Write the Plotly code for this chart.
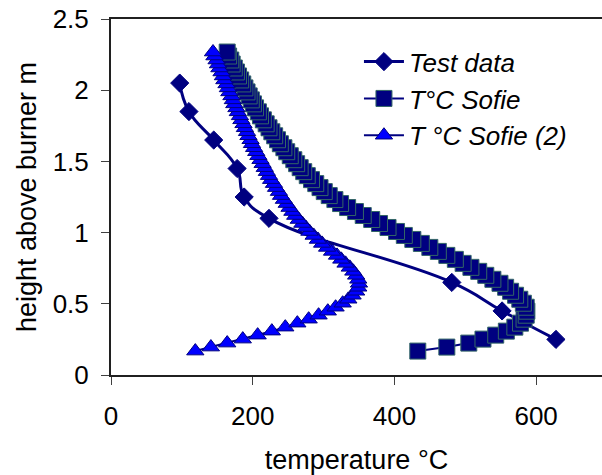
import plotly.graph_objects as go

# ---- data ----
test_temp = [97, 110, 145, 178, 188, 223, 481, 552, 628]
test_height = [2.05, 1.85, 1.65, 1.45, 1.25, 1.10, 0.65, 0.45, 0.25]

model_height = [0.168, 0.196, 0.224, 0.252, 0.280, 0.308, 0.336, 0.364, 0.392, 0.420,
                0.448, 0.476, 0.504, 0.532, 0.560, 0.588, 0.616, 0.644, 0.672, 0.700,
                0.728, 0.756, 0.784, 0.812, 0.840, 0.868, 0.896, 0.924, 0.952, 0.980,
                1.008, 1.036, 1.064, 1.092, 1.120, 1.148, 1.176, 1.204, 1.232, 1.260,
                1.288, 1.316, 1.344, 1.372, 1.400, 1.428, 1.456, 1.484, 1.512, 1.540,
                1.568, 1.596, 1.624, 1.652, 1.680, 1.708, 1.736, 1.764, 1.792, 1.820,
                1.848, 1.876, 1.904, 1.932, 1.960, 1.988, 2.016, 2.044, 2.072, 2.100,
                2.128, 2.156, 2.184, 2.212, 2.240, 2.268]

sofie_temp = [433, 474, 505, 525, 543, 558, 570, 578, 583, 586,
              587, 586, 582, 577, 571, 564, 557, 549, 539, 529,
              519, 508, 497, 486, 474, 462, 450, 438, 426, 414,
              403, 391, 379, 368, 356, 345, 334, 324, 316, 308,
              301, 295, 289, 283, 277, 272, 267, 262, 258, 253,
              248, 244, 239, 235, 231, 227, 223, 219, 215, 211,
              208, 204, 201, 198, 195, 192, 189, 186, 183, 180,
              177, 174, 171, 169, 166, 164]

sofie2_temp = [119, 141, 164, 186, 207, 227, 246, 263, 279, 293,
               306, 317, 327, 335, 341, 346, 349, 350, 349, 346,
               342, 337, 331, 325, 319, 312, 305, 298, 292, 286,
               280, 275, 270, 265, 260, 256, 252, 248, 244, 240,
               237, 233, 230, 226, 223, 220, 217, 214, 211, 208,
               205, 202, 199, 197, 194, 192, 189, 187, 184, 182,
               179, 177, 174, 172, 170, 167, 165, 163, 160, 158,
               156, 153, 151, 149, 146, 144]

series_names = ["Test data", "T°C Sofie", "T °C Sofie (2)"]
x_ticks = [0, 200, 400, 600]
y_ticks = [0, 0.5, 1, 1.5, 2, 2.5]
y_tick_text = ["0", "0.5", "1", "1.5", "2", "2.5"]

NAVY = "#000080"
FONT = "Liberation Sans, Arial, sans-serif"

fig = go.Figure()
fig.add_trace(go.Scatter(
    x=test_temp, y=test_height, mode="lines+markers",
    name="<i>%s</i>" % series_names[0], legendgroup="a",
    line=dict(color=NAVY, width=3, shape="spline", smoothing=1.3),
    marker=dict(symbol="diamond", size=14, color=NAVY, line=dict(color=NAVY, width=1)),
))
fig.add_trace(go.Scatter(
    x=sofie_temp, y=model_height, mode="lines+markers",
    name="<i>%s</i>" % series_names[1], legendgroup="b",
    line=dict(color=NAVY, width=2),
    marker=dict(symbol="square", size=16, color=NAVY, line=dict(color="#336666", width=1)),
))
fig.add_trace(go.Scatter(
    x=sofie2_temp, y=model_height, mode="lines+markers",
    name="<i>%s</i>" % series_names[2], legendgroup="c",
    line=dict(color=NAVY, width=2),
    marker=dict(symbol="triangle-up", size=15, color="#0000FF", line=dict(color=NAVY, width=1)),
))

fig.update_layout(
    width=602, height=475,
    margin=dict(l=111, r=0, t=19, b=100),
    paper_bgcolor="white", plot_bgcolor="white",
    font=dict(family=FONT, size=26, color="black"),
    showlegend=True,
    legend=dict(x=0.505, y=0.946, xanchor="left", yanchor="top",
                bgcolor="rgba(0,0,0,0)", font=dict(family=FONT, size=26, color="black"),
                tracegroupgap=0, itemwidth=40),
)
fig.update_xaxes(
    range=[0, 693], tickvals=x_ticks, ticks="outside", ticklen=8, tickcolor="#404040",
    showline=True, linecolor="#202020", linewidth=2, mirror=True, showgrid=False, zeroline=False,
    title=dict(text="temperature °C", font=dict(size=27), standoff=21),
    tickfont=dict(size=26), ticklabelstandoff=9,
)
fig.update_yaxes(
    range=[0, 2.5], tickvals=y_ticks, ticktext=y_tick_text,
    ticks="outside", ticklen=8, tickcolor="#404040",
    showline=True, linecolor="#202020", linewidth=2, showgrid=False, zeroline=False,
    title=dict(text="height above burner m", font=dict(size=27), standoff=8),
    tickfont=dict(size=26), ticklabelstandoff=7,
)

fig.write_html("out.html")
